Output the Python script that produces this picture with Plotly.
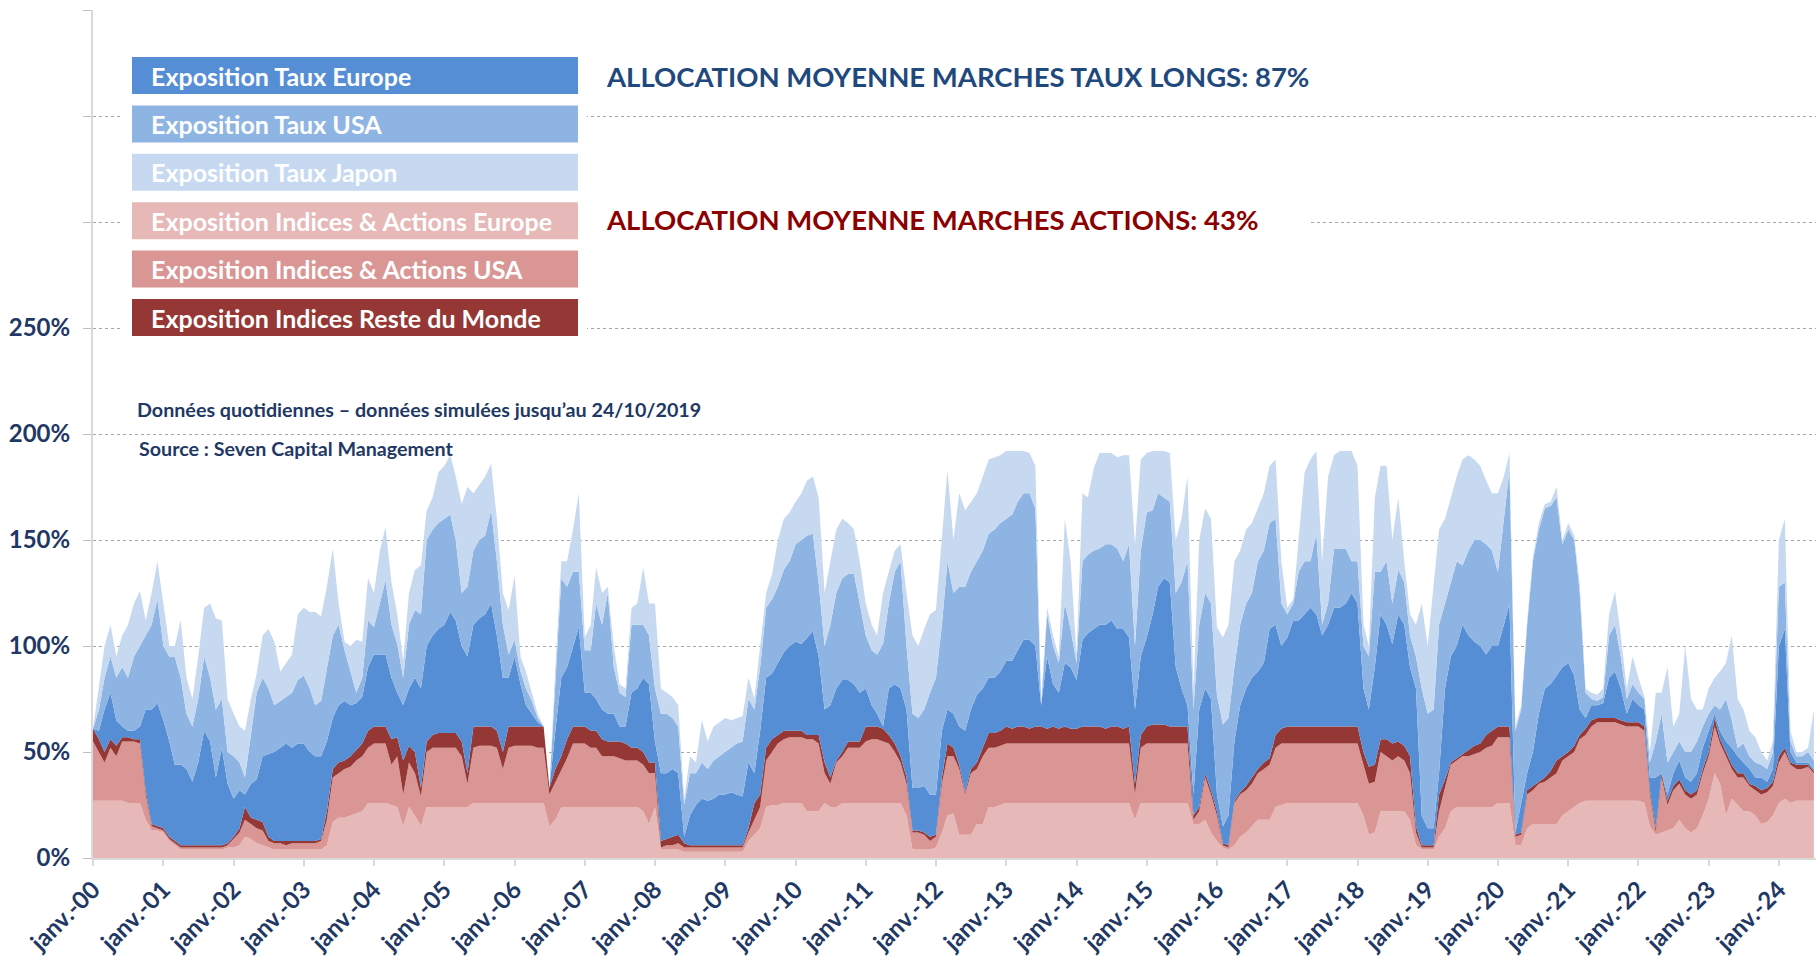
import numpy as np
import pandas as pd
import plotly.graph_objects as go

# monthly readings, janv. 2000 -> juil. 2024
# each list is the TOP of the layer (in %), stacked from the bottom up
dates = pd.date_range("2000-01-01", "2024-07-01", freq="MS")

top_indices_europe = [
    27, 27, 27, 27, 27, 27, 26, 26, 26, 18, 13, 13,
    12, 8, 6, 4, 4, 4, 4, 4, 4, 4, 4, 5,
    5, 6, 10, 9, 7, 6, 5, 4, 4, 4, 4, 4,
    4, 4, 4, 4, 6, 17, 19, 19, 20, 21, 22, 26,
    26, 26, 26, 25, 24, 15, 24, 20, 15, 24, 24, 24,
    24, 24, 24, 24, 24, 26, 26, 26, 26, 26, 26, 26,
    26, 26, 26, 26, 26, 26, 15, 18, 24, 24, 24, 24,
    24, 24, 24, 24, 24, 24, 24, 24, 24, 24, 22, 16,
    24, 4, 4, 4, 4, 3, 3, 3, 3, 3, 3, 3,
    3, 3, 3, 3, 8, 11, 14, 24, 25, 25, 26, 26,
    26, 26, 22, 22, 22, 26, 24, 24, 26, 26, 26, 26,
    26, 26, 26, 26, 26, 26, 26, 20, 4, 4, 4, 4,
    5, 12, 20, 21, 11, 11, 11, 16, 16, 24, 24, 25,
    26, 26, 26, 26, 26, 26, 26, 26, 26, 26, 26, 26,
    26, 26, 26, 26, 26, 26, 26, 26, 26, 26, 18, 26,
    26, 26, 26, 26, 26, 26, 26, 26, 16, 16, 18, 12,
    8, 5, 4, 6, 10, 12, 15, 18, 18, 18, 24, 25,
    26, 26, 26, 26, 26, 26, 26, 26, 26, 26, 26, 26,
    26, 20, 11, 12, 22, 22, 22, 22, 22, 18, 6, 4,
    4, 4, 10, 14, 22, 24, 24, 24, 24, 24, 24, 24,
    26, 26, 26, 6, 6, 14, 16, 16, 16, 16, 16, 20,
    22, 24, 26, 27, 27, 27, 27, 27, 27, 27, 27, 27,
    27, 26, 15, 11, 12, 13, 14, 18, 14, 12, 14, 20,
    28, 40, 35, 20, 28, 25, 22, 22, 20, 16, 17, 20,
    26, 28, 26, 27, 27, 27, 27,
]

top_indices_usa = [
    55, 50, 45, 52, 48, 55, 55, 55, 54, 30, 15, 14,
    13, 9, 7, 5, 5, 5, 5, 5, 5, 5, 5, 6,
    9, 12, 18, 16, 14, 13, 8, 7, 7, 6, 7, 7,
    7, 7, 7, 8, 18, 38, 40, 42, 43, 46, 48, 52,
    54, 54, 54, 44, 48, 30, 45, 40, 29, 50, 52, 52,
    52, 52, 52, 48, 35, 52, 53, 53, 53, 52, 42, 52,
    53, 53, 53, 53, 52, 52, 30, 36, 42, 47, 54, 54,
    54, 52, 52, 48, 48, 48, 47, 46, 46, 46, 44, 40,
    40, 5, 6, 6, 7, 5, 5, 5, 5, 5, 5, 5,
    5, 5, 5, 5, 12, 18, 24, 46, 50, 54, 56, 57,
    57, 57, 56, 56, 54, 40, 35, 45, 48, 52, 52, 52,
    55, 56, 56, 55, 54, 50, 45, 35, 12, 12, 11, 8,
    10, 35, 48, 48, 42, 30, 40, 42, 48, 52, 52, 53,
    54, 54, 54, 54, 54, 54, 54, 54, 54, 54, 54, 54,
    54, 54, 54, 54, 54, 54, 54, 54, 54, 54, 30, 52,
    54, 54, 54, 54, 54, 54, 54, 54, 18, 22, 38, 30,
    20, 6, 5, 26, 30, 32, 35, 40, 42, 44, 52, 54,
    54, 54, 54, 54, 54, 54, 54, 54, 54, 54, 54, 54,
    54, 44, 35, 36, 50, 48, 46, 48, 46, 40, 12, 5,
    5, 5, 22, 33, 44, 46, 48, 48, 49, 50, 52, 53,
    57, 57, 57, 10, 11, 30, 32, 35, 36, 38, 40, 46,
    48, 50, 56, 58, 62, 64, 64, 64, 64, 63, 62, 62,
    62, 60, 30, 12, 38, 25, 32, 35, 30, 28, 30, 40,
    48, 62, 54, 48, 42, 38, 38, 34, 32, 30, 31, 34,
    45, 50, 44, 42, 42, 43, 40,
]

top_reste_monde = [
    61, 56, 50, 56, 53, 57, 57, 56, 56, 32, 16, 15,
    14, 10, 8, 6, 6, 6, 6, 6, 6, 6, 6, 7,
    10, 14, 24, 19, 18, 17, 10, 8, 8, 8, 8, 8,
    8, 8, 8, 9, 22, 42, 45, 46, 48, 51, 54, 60,
    62, 62, 62, 56, 57, 46, 53, 50, 33, 55, 58, 59,
    59, 59, 59, 55, 40, 62, 62, 62, 62, 60, 50, 62,
    62, 62, 62, 62, 62, 62, 33, 42, 48, 56, 62, 62,
    62, 60, 60, 56, 55, 55, 55, 54, 52, 52, 50, 45,
    45, 8, 9, 10, 11, 7, 6, 6, 6, 6, 6, 6,
    6, 6, 6, 6, 14, 26, 30, 52, 56, 58, 60, 60,
    60, 60, 58, 58, 58, 45, 38, 46, 50, 55, 55, 55,
    62, 62, 62, 61, 58, 54, 48, 38, 13, 13, 12, 10,
    11, 38, 54, 52, 44, 31, 42, 45, 52, 59, 59, 60,
    62, 61, 62, 62, 61, 62, 62, 61, 62, 61, 62, 61,
    61, 62, 62, 62, 62, 61, 62, 62, 61, 62, 35, 58,
    62, 63, 63, 63, 62, 62, 62, 62, 20, 24, 40, 32,
    22, 7, 6, 27, 31, 34, 38, 42, 45, 47, 58, 61,
    62, 62, 62, 62, 62, 62, 62, 62, 62, 62, 62, 62,
    62, 50, 43, 44, 56, 56, 54, 55, 53, 48, 15, 6,
    6, 6, 30, 37, 45, 47, 49, 51, 53, 54, 58, 60,
    62, 62, 62, 11, 12, 32, 34, 36, 38, 41, 46, 48,
    50, 53, 58, 61, 65, 66, 66, 66, 66, 65, 64, 64,
    64, 62, 32, 14, 40, 27, 34, 37, 32, 30, 32, 42,
    50, 66, 56, 50, 44, 40, 40, 35, 34, 32, 33, 36,
    48, 52, 45, 44, 44, 44, 41,
]

top_taux_europe = [
    61, 60, 70, 78, 65, 62, 60, 60, 62, 70, 70, 73,
    65, 55, 44, 44, 42, 36, 45, 60, 55, 38, 52, 35,
    28, 32, 30, 35, 37, 48, 49, 50, 52, 54, 52, 54,
    54, 50, 48, 48, 55, 66, 72, 74, 72, 73, 76, 90,
    96, 96, 96, 85, 78, 72, 80, 85, 80, 100, 105, 108,
    110, 116, 112, 100, 95, 110, 113, 115, 120, 105, 85, 85,
    95, 82, 72, 68, 64, 62, 33, 60, 85, 90, 100, 109,
    78, 78, 75, 70, 68, 68, 62, 62, 78, 80, 85, 82,
    55, 40, 40, 42, 40, 10, 20, 25, 28, 27, 28, 30,
    30, 31, 30, 29, 45, 40, 60, 85, 87, 92, 97, 100,
    102, 101, 104, 107, 95, 70, 72, 80, 84, 84, 82, 78,
    80, 72, 68, 62, 80, 82, 80, 70, 33, 33, 34, 30,
    30, 60, 70, 68, 62, 60, 70, 77, 80, 85, 85, 88,
    93, 93, 98, 103, 103, 100, 72, 95, 82, 78, 92, 90,
    84, 103, 106, 108, 110, 110, 112, 108, 108, 104, 70, 95,
    104, 115, 128, 132, 130, 90, 80, 72, 30, 70, 80, 75,
    30, 15, 20, 55, 72, 80, 85, 88, 92, 108, 110, 100,
    104, 112, 112, 115, 118, 115, 105, 110, 118, 118, 120, 125,
    120, 80, 70, 90, 115, 110, 101, 115, 110, 90, 80, 20,
    14, 14, 40, 80, 95, 100, 110, 105, 102, 100, 96, 100,
    100, 110, 120, 12, 25, 40, 50, 68, 80, 82, 86, 90,
    92, 86, 70, 66, 72, 72, 73, 85, 88, 80, 68, 75,
    72, 70, 38, 38, 40, 30, 40, 46, 38, 36, 40, 52,
    60, 68, 60, 55, 52, 48, 45, 42, 38, 38, 36, 42,
    100, 108, 50, 45, 45, 45, 42,
]

top_taux_usa = [
    61, 70, 85, 95, 85, 90, 85, 95, 100, 105, 110, 122,
    100, 95, 95, 85, 68, 62, 75, 95, 85, 70, 75, 50,
    48, 45, 38, 58, 78, 85, 80, 72, 74, 76, 78, 84,
    86, 80, 72, 74, 90, 105, 110, 98, 88, 78, 85, 112,
    109, 120, 131, 110, 101, 85, 110, 117, 115, 150, 155, 158,
    160, 162, 150, 125, 128, 145, 150, 152, 164, 140, 110, 96,
    103, 88, 80, 74, 66, 62, 33, 85, 132, 128, 135, 135,
    98, 98, 120, 110, 125, 90, 78, 76, 110, 110, 110, 105,
    80, 68, 68, 66, 62, 25, 40, 40, 45, 42, 46, 48,
    50, 52, 54, 55, 75, 70, 90, 118, 122, 128, 136, 140,
    148, 150, 152, 153, 130, 100, 110, 125, 132, 134, 134, 120,
    105, 98, 96, 101, 120, 135, 140, 100, 68, 66, 70, 78,
    85, 110, 140, 125, 128, 128, 135, 140, 145, 153, 155, 158,
    160, 162, 168, 172, 172, 165, 72, 115, 100, 92, 120, 108,
    92, 140, 143, 145, 146, 148, 148, 146, 140, 148, 100, 145,
    163, 164, 172, 170, 168, 125, 130, 140, 70, 110, 125, 120,
    77, 63, 66, 90, 110, 120, 125, 140, 145, 158, 160, 120,
    115, 120, 135, 140, 140, 153, 110, 120, 146, 146, 146, 140,
    140, 100, 95, 135, 135, 140, 120, 136, 130, 105, 95, 80,
    68, 70, 110, 120, 130, 140, 138, 145, 150, 150, 148, 145,
    135, 160, 183, 60, 70, 110, 140, 155, 165, 166, 170, 148,
    155, 150, 126, 78, 75, 74, 76, 105, 110, 95, 75, 82,
    78, 75, 45, 55, 68, 45, 50, 55, 50, 50, 55, 62,
    68, 72, 70, 75, 65, 52, 54, 48, 45, 44, 42, 50,
    128, 130, 55, 48, 48, 50, 46,
]

top_taux_japon = [
    61, 80, 100, 110, 95, 105, 110, 120, 126, 112, 125, 140,
    120, 100, 100, 112, 85, 75, 95, 118, 120, 113, 112, 75,
    68, 62, 60, 75, 87, 105, 108, 102, 88, 92, 96, 115,
    118, 116, 116, 114, 128, 146, 120, 102, 100, 103, 102, 132,
    125, 145, 156, 130, 115, 93, 125, 136, 138, 164, 170, 182,
    185, 190, 180, 167, 175, 172, 176, 180, 186, 160, 125, 117,
    133, 95, 88, 78, 68, 62, 33, 90, 140, 140, 155, 172,
    104, 110, 137, 125, 128, 100, 82, 80, 118, 120, 137, 120,
    120, 80, 78, 76, 72, 28, 48, 45, 65, 55, 62, 64,
    66, 65, 66, 67, 85, 75, 100, 125, 134, 150, 160, 163,
    168, 172, 178, 180, 170, 125, 140, 155, 160, 158, 155, 140,
    120, 110, 105, 125, 135, 145, 148, 125, 105, 100, 108, 115,
    117, 150, 183, 150, 172, 164, 168, 172, 180, 188, 189, 190,
    192, 192, 192, 192, 191, 185, 74, 118, 105, 95, 160, 140,
    96, 172, 170, 184, 191, 191, 191, 189, 190, 190, 148, 188,
    191, 192, 192, 192, 191, 150, 160, 180, 80, 150, 165, 160,
    109, 104, 110, 140, 145, 155, 158, 165, 172, 185, 188, 140,
    118, 122, 150, 182, 188, 192, 140, 180, 190, 192, 192, 192,
    185, 110, 100, 170, 185, 185, 150, 170, 140, 115, 110, 120,
    100, 128, 155, 160, 170, 180, 188, 190, 188, 185, 178, 172,
    172, 180, 191, 62, 72, 112, 142, 158, 167, 168, 175, 150,
    158, 152, 130, 80, 78, 77, 80, 115, 126, 105, 80, 95,
    85, 76, 50, 78, 78, 90, 62, 68, 100, 75, 70, 70,
    80, 85, 88, 92, 105, 75, 70, 60, 57, 50, 46, 55,
    150, 160, 60, 50, 50, 52, 70,
]

names = [
    "Exposition Indices & Actions Europe",
    "Exposition Indices & Actions USA",
    "Exposition Indices Reste du Monde",
    "Exposition Taux Europe",
    "Exposition Taux USA",
    "Exposition Taux Japon",
]
colors = ["#E6B9B8", "#D99694", "#953735", "#558ED5", "#8EB4E3", "#C6D9F1"]

year_ticks = pd.date_range("2000-01-01", "2024-01-01", freq="YS")
year_labels = [f"janv.-{d.year % 100:02d}" for d in year_ticks]

# exposure of each layer = difference between consecutive tops
tops = np.array([top_indices_europe, top_indices_usa, top_reste_monde,
                 top_taux_europe, top_taux_usa, top_taux_japon], dtype=float)
expo = np.clip(np.diff(np.vstack([np.zeros(len(dates)), tops]), axis=0), 0, None)

fig = go.Figure()
for name, col, y in zip(names, colors, expo):
    fig.add_trace(go.Scatter(
        x=dates, y=y, name=name, stackgroup="one", mode="lines",
        line=dict(width=0, color=col), fillcolor=col,
    ))

# ---- page geometry (pixels) for the custom legend / notes
W, H = 1816, 959
ML, MT, MB = 93, 10, 101
PW, PH = W - ML, H - MT - MB


def px(x):
    return (x - ML) / PW


def py(y):
    return (H - MB - y) / PH


NAVY = "#1F3864"
FONT = "Lato"

shapes = []
annotations = []

# white blocks hiding the gridlines behind the legend and the notes
shapes.append(dict(type="rect", xref="paper", yref="paper", layer="above",
                   x0=px(123), x1=px(587), y0=py(344), y1=py(50),
                   fillcolor="white", line=dict(width=0)))
shapes.append(dict(type="rect", xref="paper", yref="paper", layer="above",
                   x0=px(587), x1=px(1311), y0=py(236), y1=py(205),
                   fillcolor="white", line=dict(width=0)))

legend_order = [3, 4, 5, 0, 1, 2]
for i, k in enumerate(legend_order):
    top = 57 + 48.4 * i
    shapes.append(dict(type="rect", xref="paper", yref="paper", layer="above",
                       x0=px(132), x1=px(578), y0=py(top + 37), y1=py(top),
                       fillcolor=colors[k], line=dict(width=0)))
    annotations.append(dict(xref="paper", yref="paper", x=px(149), y=py(top + 18.5),
                            xanchor="left", yanchor="middle", showarrow=False,
                            text=names[k],
                            font=dict(family=FONT, size=25, color="white", weight="bold")))

annotations.append(dict(xref="paper", yref="paper", x=px(604), y=py(77),
                        xanchor="left", yanchor="middle", showarrow=False,
                        text="ALLOCATION MOYENNE MARCHES TAUX LONGS: 87%",
                        font=dict(family=FONT, size=27.5, color="#1F497D", weight="bold")))
annotations.append(dict(xref="paper", yref="paper", x=px(604), y=py(219),
                        xanchor="left", yanchor="middle", showarrow=False,
                        text="ALLOCATION MOYENNE MARCHES ACTIONS: 43%",
                        font=dict(family=FONT, size=27.5, color="#8B0000", weight="bold")))
annotations.append(dict(xref="paper", yref="paper", x=px(135), y=py(409),
                        xanchor="left", yanchor="middle", showarrow=False,
                        text="Données quotidiennes – données simulées jusqu’au 24/10/2019",
                        font=dict(family=FONT, size=19.7, color=NAVY, weight="bold")))
annotations.append(dict(xref="paper", yref="paper", x=px(137), y=py(448),
                        xanchor="left", yanchor="middle", showarrow=False,
                        text="Source : Seven Capital Management",
                        font=dict(family=FONT, size=19.7, color=NAVY, weight="bold")))

fig.update_layout(
    width=W, height=H,
    margin=dict(l=ML, r=0, t=MT, b=MB),
    paper_bgcolor="white", plot_bgcolor="white",
    showlegend=False,
    font=dict(family=FONT, color=NAVY),
    shapes=shapes, annotations=annotations,
)

fig.update_xaxes(
    range=["2000-01-01", "2024-07-12"],
    tickvals=year_ticks, ticktext=year_labels, tickangle=-45,
    tickfont=dict(family=FONT, size=24, color=NAVY, weight="bold"),
    showgrid=False, zeroline=False,
    showline=True, linecolor="#D9D9D9", linewidth=2,
    ticks="outside", ticklen=6, tickcolor="#D9D9D9", tickwidth=2,
    automargin=False,
)

fig.update_yaxes(
    range=[0, 400],
    tickvals=[0, 50, 100, 150, 200, 250, 300, 350, 400],
    ticktext=["0%", "50%", "100%", "150%", "200%", "250%", "", "", ""],
    tickfont=dict(family=FONT, size=24, color=NAVY, weight="bold"),
    showgrid=True, gridcolor="#A6A6A6", gridwidth=1, griddash="dot",
    zeroline=False,
    showline=True, linecolor="#D9D9D9", linewidth=2,
    ticks="outside", ticklen=8, tickcolor="#BFBFBF", tickwidth=1,
    ticklabelstandoff=8,
    automargin=False,
)

# page body has a default 8px margin: drop it so the figure fills the window
fig.write_html("out.html",
               config={"displayModeBar": False},
               post_script="document.body.style.margin='0';document.body.style.overflow='hidden';")
